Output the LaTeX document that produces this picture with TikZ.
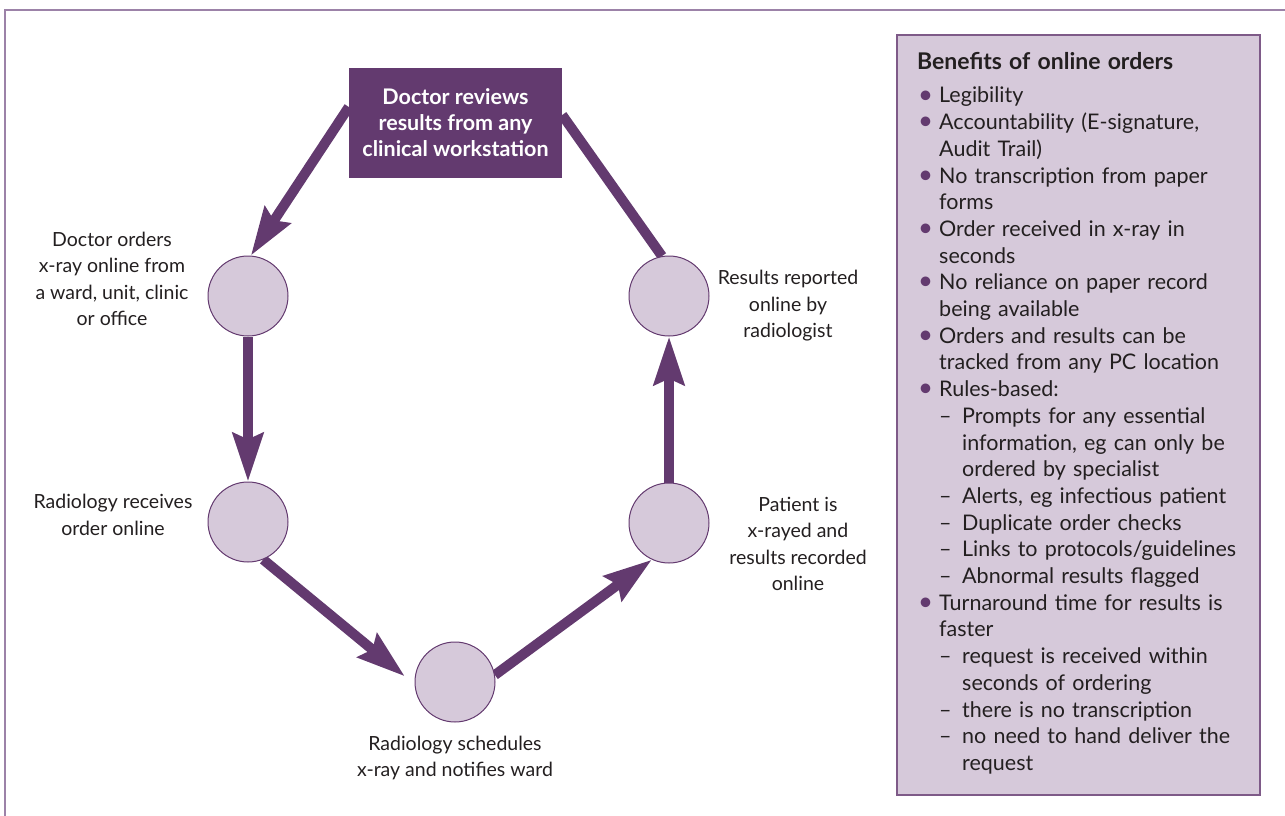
\documentclass[tikz,border=0pt]{standalone}
\usepackage{fontspec}
\setmainfont{Lato}
\usetikzlibrary{arrows.meta,backgrounds}
\definecolor{dp}{HTML}{633A6F}
\definecolor{lp}{HTML}{D6C9DA}
\definecolor{pb}{HTML}{7E5A88}
\definecolor{fr}{HTML}{9C82A8}
\definecolor{tx}{HTML}{231F20}
\newcommand\BU{\makebox[22pt][l]{\hspace{1pt}\textcolor{dp}{\scalebox{1.2}{\textbullet}}}}
\newcommand\CO{\hspace*{22pt}}
\newcommand\DA{\hspace*{22pt}\makebox[23pt][l]{–}}
\newcommand\EE{\hspace*{45pt}}
\tikzset{
  stage/.style={circle, draw=dp, line width=1pt, fill=lp, minimum size=80pt, inner sep=0pt},
  lab/.style={align=center, text=tx, font=\fontsize{19.5}{26.5}\selectfont, inner sep=0pt},
  arr/.style={draw=dp, line width=10pt, -{Stealth[length=48pt,width=30pt,inset=6pt]}},
  link/.style={draw=dp, line width=10pt},
  topbox/.style={fill=dp, text=white, minimum width=213pt, minimum height=110pt, align=center,
    font=\bfseries\fontsize{21.5}{26}\selectfont, inner sep=0pt},
  panel/.style={fill=lp, draw=pb, line width=1.5pt},
  paneltext/.style={text width=340pt, align=left, text=tx, inner sep=0pt,
    font=\fontsize{21.5}{26.7}\selectfont}
}
\begin{document}
\begin{tikzpicture}[x=1pt,y=-1pt]
\useasboundingbox (0,0) rectangle (1285,816);
\draw[fr, line width=2pt] (5,816) -- (5,10) -- (1285,10);

% panel
\path[panel] (897,35) rectangle (1260,795);
\node[paneltext, anchor=base west] (benefits) at (917,70) {%
{\fontsize{23}{26.7}\selectfont\textbf{Benefits of online orders}}\\[6.3pt]
\BU Legibility\\
\BU Accountability (E-signature,\\
\CO Audit Trail)\\
\BU No transcription from paper\\
\CO forms\\
\BU Order received in x-ray in\\
\CO seconds\\
\BU No reliance on paper record\\
\CO being available\\
\BU Orders and results can be\\
\CO tracked from any PC location\\
\BU Rules-based:\\
\DA Prompts for any essential\\
\EE information, eg can only be\\
\EE ordered by specialist\\
\DA Alerts, eg infectious patient\\
\DA Duplicate order checks\\
\DA Links to protocols/guidelines\\
\DA Abnormal results flagged\\
\BU Turnaround time for results is\\
\CO faster\\
\DA request is received within\\
\EE seconds of ordering\\
\DA there is no transcription\\
\DA no need to hand deliver the\\
\EE request};

% top box and cycle nodes
\node[topbox] (box) at (455.5,123) {Doctor reviews\\results from any\\clinical workstation};
\node[stage] (c1) at (248,296) {};
\node[stage] (c2) at (248,522) {};
\node[stage] (c3) at (455,682) {};
\node[stage] (c4) at (669,523) {};
\node[stage] (c5) at (669,296) {};

% arrows
\begin{scope}[on background layer]
\draw[arr] ([yshift=16pt]box.west) -- (c1.86);
\draw[arr] (c1.south) -- (c2.north);
\draw[arr] (c2.-68) -- ([xshift=-10pt]c3.172);
\draw[arr] (c3.10) -- (c4.245);
\draw[arr] (c4.north) -- (c5.south);
\draw[link] (c5.100) -- ([yshift=8pt]box.east);
\end{scope}

% labels
\node[lab] (l1) at (112,279) {Doctor orders\\x-ray online from\\a ward, unit, clinic\\or office};
\node[lab] (l2) at (113,515) {Radiology receives\\order online};
\node[lab] (l3) at (455,758) {Radiology schedules\\x-ray and notifies ward};
\node[lab] (l4) at (798,544) {Patient is\\x-rayed and\\results recorded\\online};
\node[lab] (l5) at (788,306) {Results reported\\online by\\radiologist};
\end{tikzpicture}
\end{document}
